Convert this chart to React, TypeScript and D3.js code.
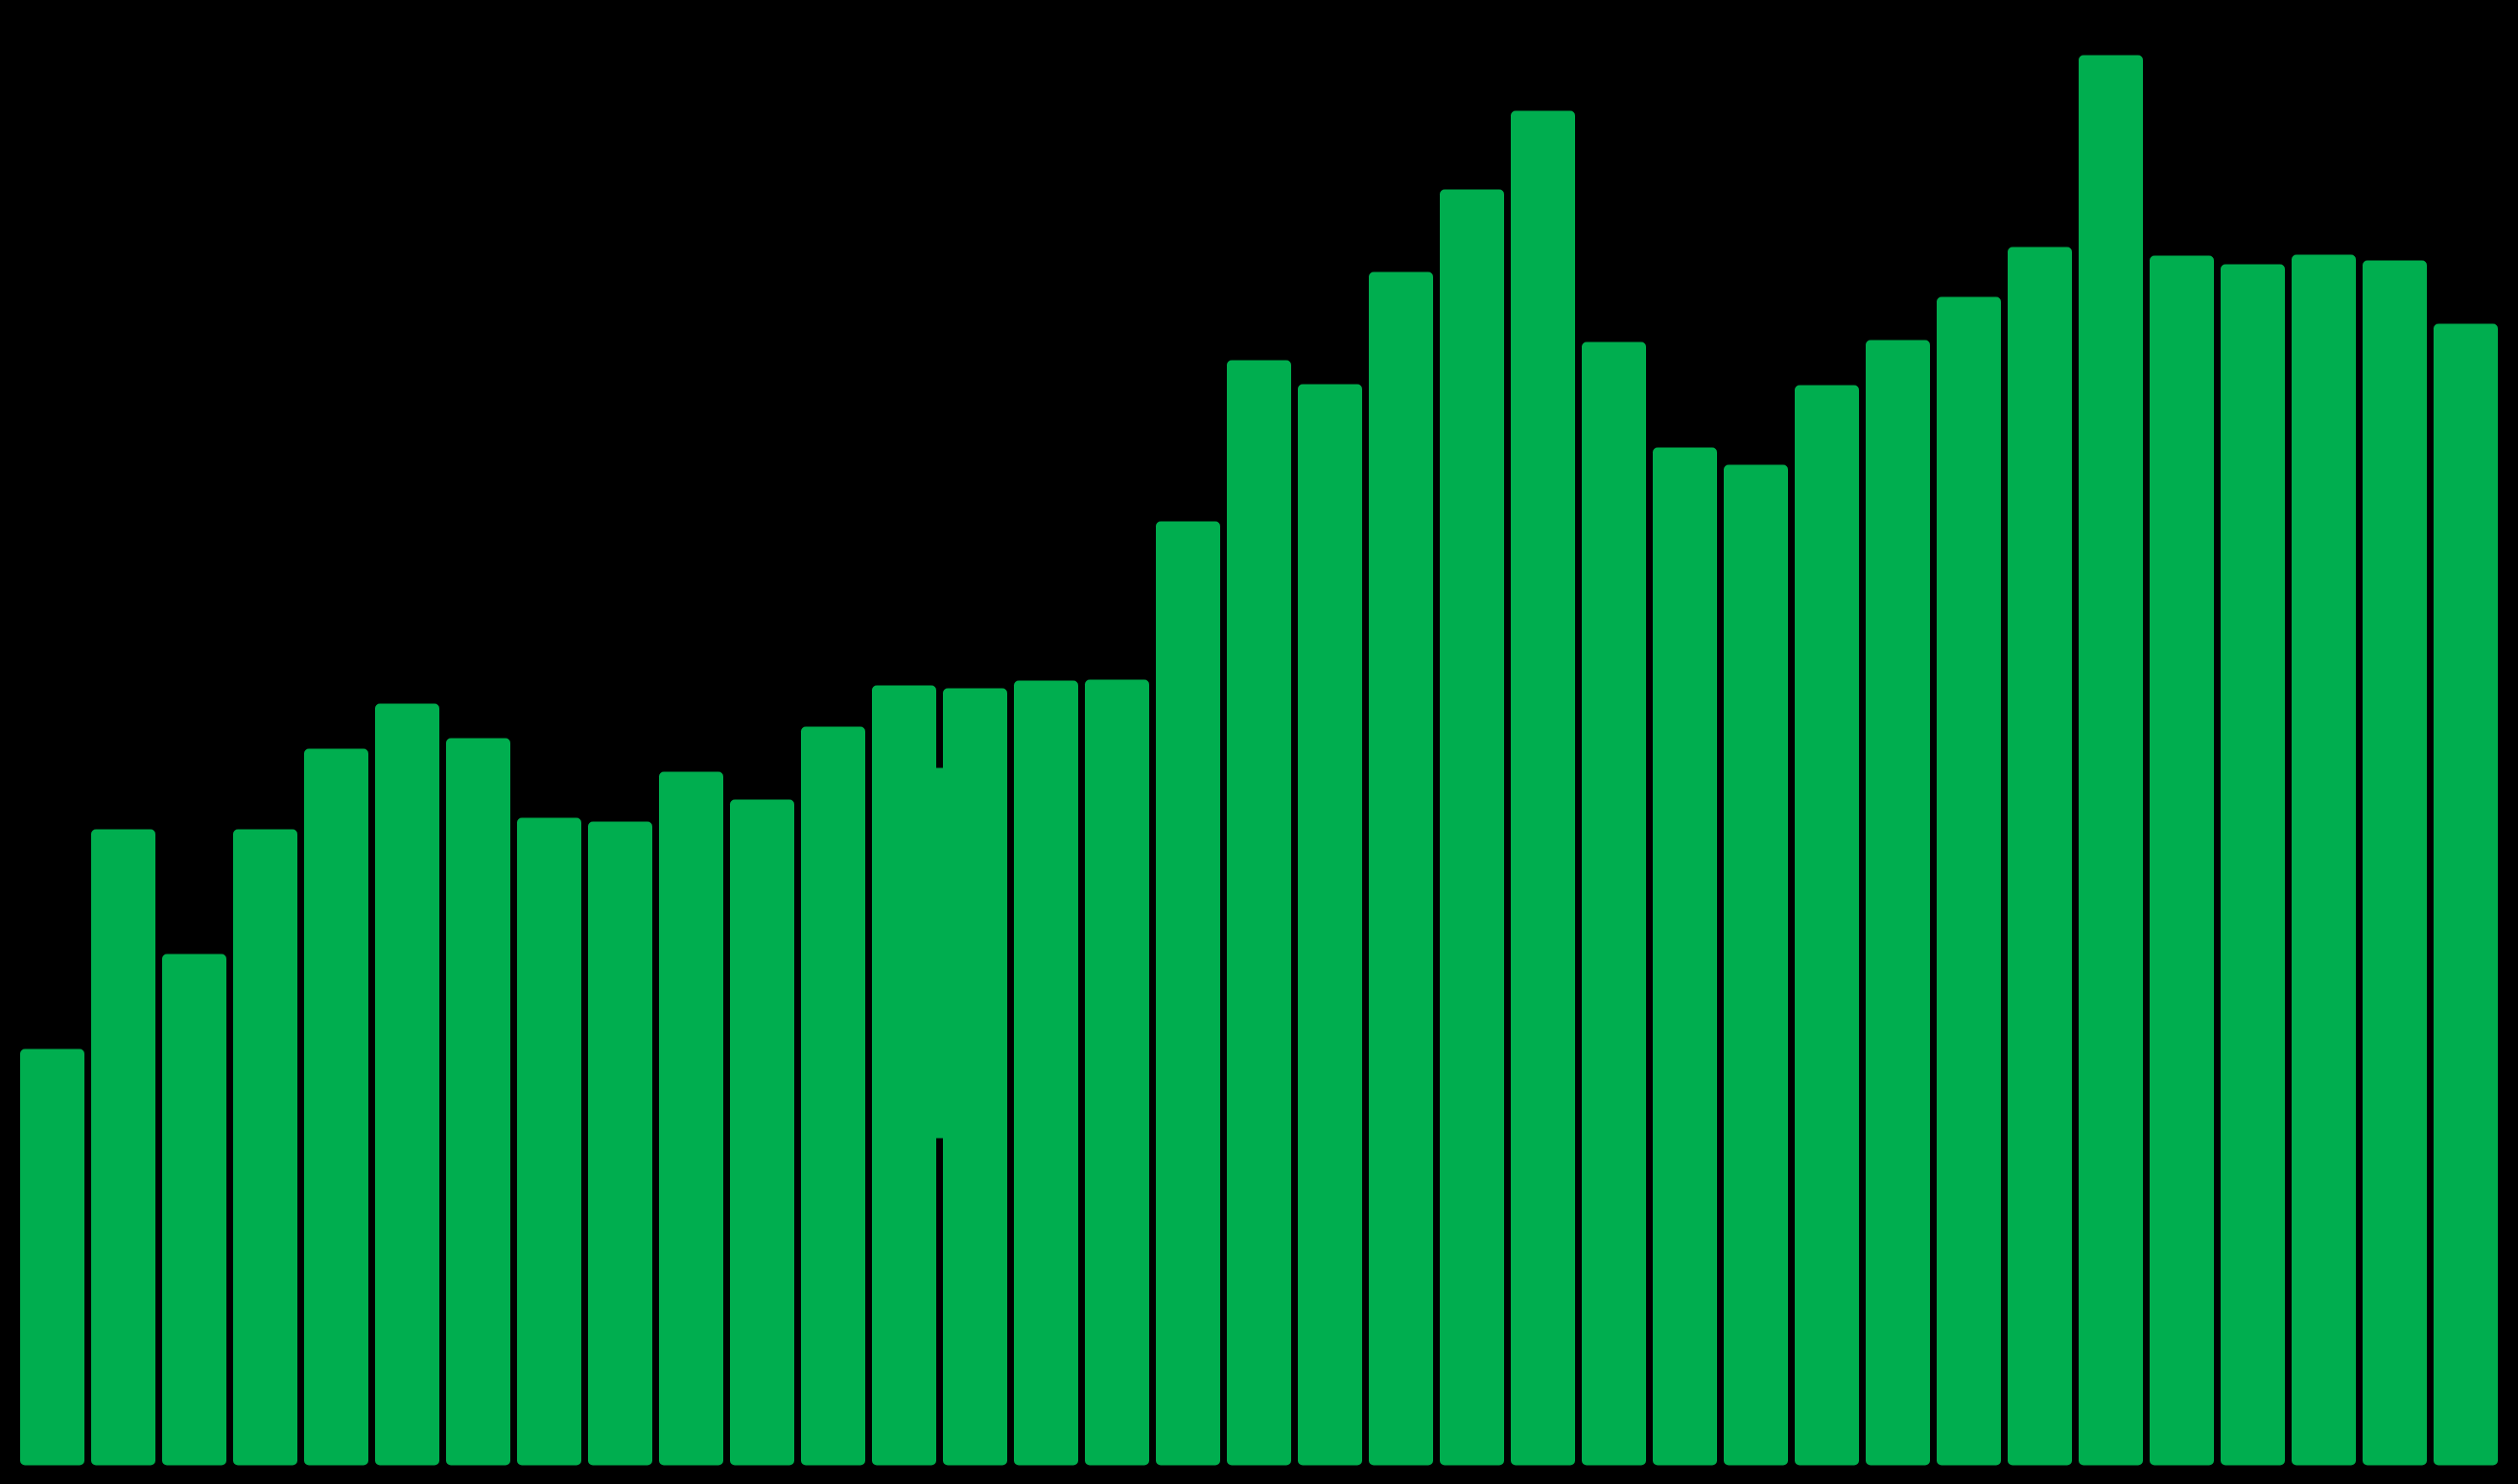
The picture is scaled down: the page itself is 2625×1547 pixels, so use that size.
import React from "react";
import * as d3 from "d3";

const categories: string[] = Array.from({ length: 35 }, (_, i) => `P${i + 1}`);
const values: number[] = [
  434, 663, 533, 663, 747, 794, 758, 675, 671, 723, 694, 770, 813, 810, 818, 819,
  984, 1152, 1127, 1244, 1330, 1412, 1171, 1061, 1043, 1126, 1173, 1218, 1270,
  1470, 1261, 1252, 1262, 1256, 1190,
];
// green bridge filling the gap between bar 13 and bar 14
const bridge = { from: "P13", to: "P14", low: 341, high: 727 };

const W = 2625;
const H = 1547;
const GREEN = "#00AE4F";

export default function App() {
  const x = d3
    .scaleBand<string>()
    .domain(categories)
    .range([17.5, 2607.5])
    .paddingInner(7 / 74)
    .paddingOuter(3.5 / 74);
  const y = d3.scaleLinear().domain([0, 1500]).range([1527.5, 27.5]);
  const bw = x.bandwidth();

  return (
    <svg
      width={W}
      height={H}
      style={{ position: "fixed", left: 0, top: 0, background: "#000", display: "block" }}
    >
      <rect x={0} y={0} width={W} height={H} fill="#000" />
      <rect
        x={(x(bridge.from) as number) + bw - 1}
        width={(x(bridge.to) as number) - ((x(bridge.from) as number) + bw) + 2}
        y={y(bridge.high)}
        height={y(bridge.low) - y(bridge.high)}
        fill={GREEN}
      />
      {values.map((v, i) => (
        <rect
          key={categories[i]}
          x={x(categories[i])}
          width={bw}
          y={y(v)}
          height={y(0) - y(v)}
          rx={5}
          ry={5}
          fill={GREEN}
        />
      ))}
    </svg>
  );
}
